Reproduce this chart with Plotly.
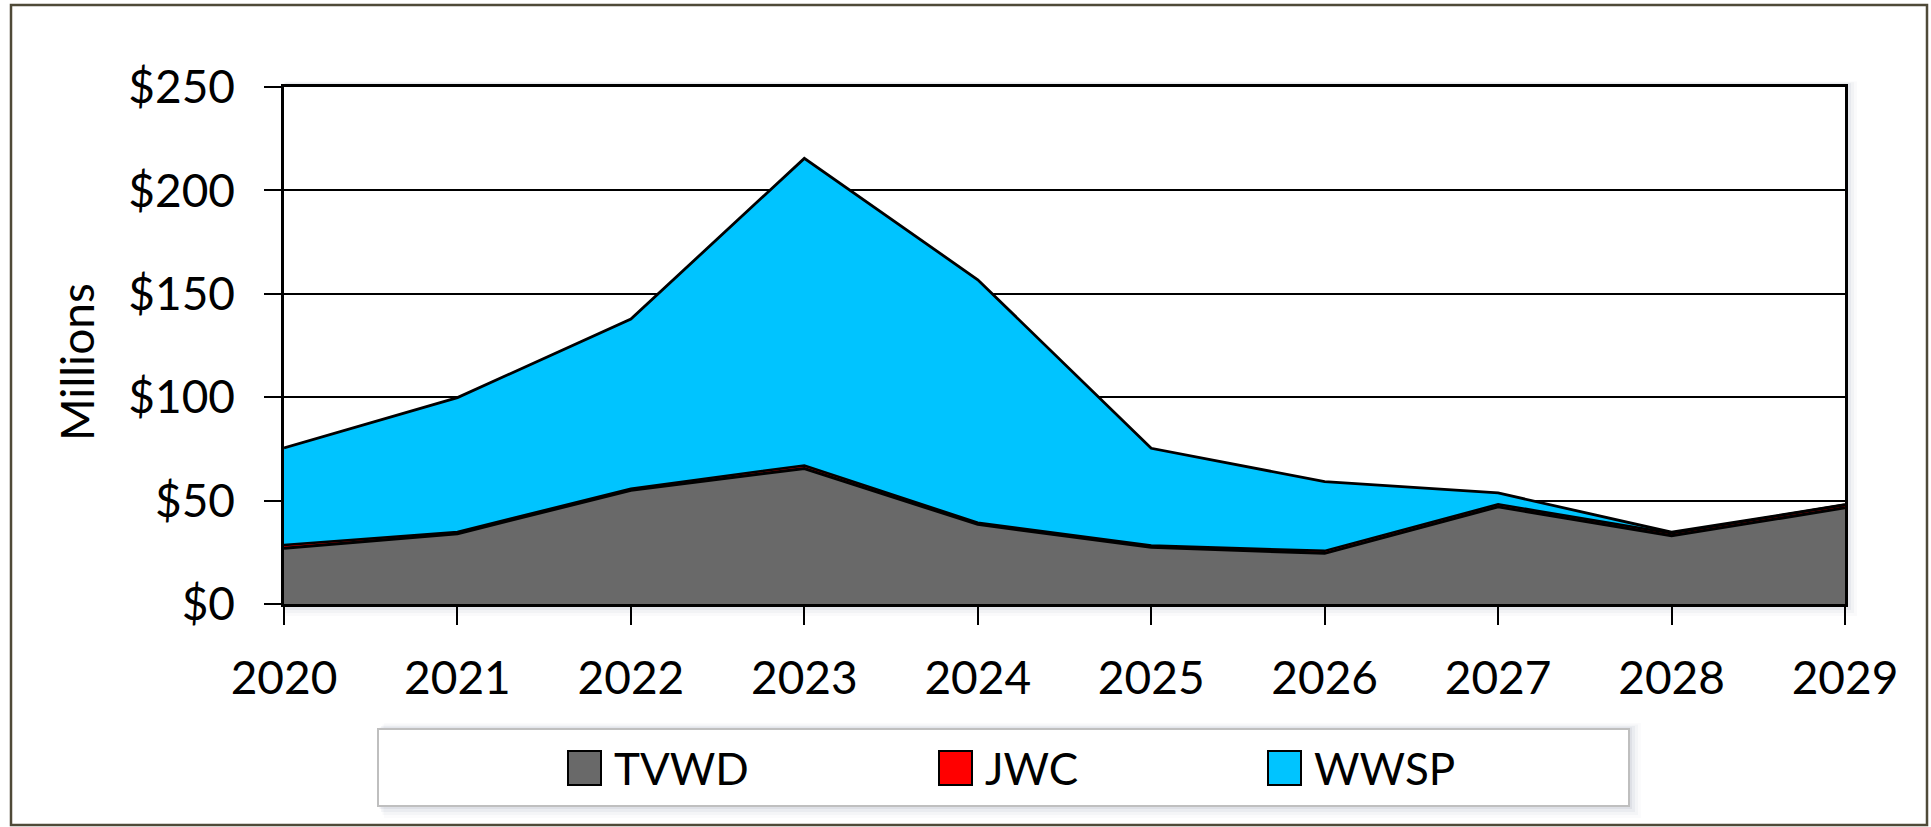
import plotly.graph_objects as go

# ---- data ----
years = [2020, 2021, 2022, 2023, 2024, 2025, 2026, 2027, 2028, 2029]
tvwd = [27, 34, 55, 65.5, 38.5, 27.5, 24.5, 47, 33, 46.5]
jwc = [1.5, 0.8, 0.8, 1.5, 0.8, 0.8, 1.2, 1.2, 1.2, 1.5]
wwsp = [47, 65, 82, 148.5, 117.5, 47, 33.5, 5.5, 0.5, 0]
series_names = ["TVWD", "JWC", "WWSP"]
series_colors = ["#696969", "#FF0000", "#00C4FF"]
ytick_vals = [0, 50, 100, 150, 200, 250]
ytick_text = ["$0", "$50", "$100", "$150", "$200", "$250"]
y_title = "Millions"

W, H = 1931, 827
L, R, T, B = 284, 1845, 87, 604  # plot area in px
FONT = "Lato"

def px(x):
    return (x - L) / (R - L)

def py(y):
    return (B - y) / (B - T)

fig = go.Figure()
series_vals = [tvwd, jwc, wwsp]
line_w = [3, 2.5, 2.8]
for name, vals, col, lw in zip(series_names, series_vals, series_colors, line_w):
    fig.add_trace(go.Scatter(
        x=years, y=vals, name=name, mode="lines",
        stackgroup="one", fillcolor=col,
        line=dict(color="black", width=lw),
        showlegend=False, hoverinfo="x+y+name",
    ))

shapes = []
# outer chart border
shapes.append(dict(type="rect", xref="paper", yref="paper",
                   x0=px(11), x1=px(1927), y0=py(5), y1=py(825),
                   line=dict(color="#4F4A38", width=2.5), fillcolor="rgba(0,0,0,0)",
                   layer="below"))
# soft shadow behind plot area
for i, op in enumerate([0.10, 0.08, 0.06, 0.04]):
    d = 3 + i * 3
    shapes.append(dict(type="rect", xref="paper", yref="paper",
                       x0=px(L - 2 + d * 0.3), x1=px(R + d), y0=py(B + d), y1=py(T - 2 - d * 0.3),
                       line=dict(width=0), fillcolor=f"rgba(120,130,160,{op})", layer="below"))
# white plot area over the shadow
shapes.append(dict(type="rect", xref="paper", yref="paper",
                   x0=0, x1=1, y0=0, y1=1,
                   line=dict(width=0), fillcolor="white", layer="below"))
# legend box shadow
LG = (378, 1629, 729, 806)
for i, op in enumerate([0.10, 0.07, 0.05, 0.03]):
    d = 3 + i * 3
    shapes.append(dict(type="rect", xref="paper", yref="paper",
                       x0=px(LG[0] + d * 0.5), x1=px(LG[1] + d), y0=py(LG[3] + d), y1=py(LG[2] - d * 0.5),
                       line=dict(width=0), fillcolor=f"rgba(120,130,160,{op})", layer="below"))
shapes.append(dict(type="rect", xref="paper", yref="paper",
                   x0=px(LG[0]), x1=px(LG[1]), y0=py(LG[3]), y1=py(LG[2]),
                   line=dict(color="#BFBFBF", width=2), fillcolor="white", layer="below"))

annotations = []
# legend entries
sw_x = [568, 939, 1268]
for name, col, sx in zip(series_names, series_colors, sw_x):
    shapes.append(dict(type="rect", xref="paper", yref="paper",
                       x0=px(sx), x1=px(sx + 33), y0=py(785), y1=py(751),
                       line=dict(color="black", width=2), fillcolor=col, layer="above"))
    annotations.append(dict(xref="paper", yref="paper", x=px(sx + 44), y=py(768),
                            xanchor="left", yanchor="middle", text=name, showarrow=False,
                            font=dict(family=FONT, size=44, color="black")))
# y axis title
annotations.append(dict(xref="paper", yref="paper", x=px(76), y=py(362),
                        xanchor="center", yanchor="middle", text=y_title, textangle=-90,
                        showarrow=False, font=dict(family=FONT, size=46, color="black")))

fig.update_layout(
    width=W, height=H,
    margin=dict(l=L, r=W - R, t=T, b=H - B, pad=0),
    paper_bgcolor="white", plot_bgcolor="rgba(0,0,0,0)",
    font=dict(family=FONT, size=46, color="black"),
    shapes=shapes, annotations=annotations,
    showlegend=False,
)
fig.update_xaxes(
    range=[years[0], years[-1]], tickvals=years, ticktext=[str(y) for y in years],
    ticks="outside", ticklen=18, tickwidth=2, tickcolor="black",
    showline=True, linecolor="black", linewidth=2.5, mirror=True,
    showgrid=False, zeroline=False, ticklabelstandoff=14,
    tickfont=dict(family=FONT, size=46, color="black"),
)
fig.update_yaxes(
    range=[0, 250], tickvals=ytick_vals, ticktext=ytick_text,
    ticks="outside", ticklen=17, tickwidth=2, tickcolor="black",
    showline=True, linecolor="black", linewidth=2.5, mirror=True,
    showgrid=True, gridcolor="black", gridwidth=2, zeroline=False,
    ticklabelstandoff=20,
    tickfont=dict(family=FONT, size=46, color="black"),
)

fig.write_html("out.html", config={"displayModeBar": False},
               post_script="document.body.style.margin='0';")
